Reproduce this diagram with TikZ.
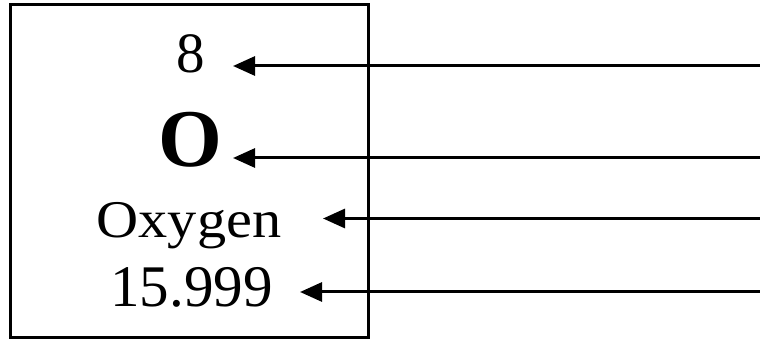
\documentclass[tikz,border=0pt]{standalone}
\usepackage{fontspec}
\setmainfont{Liberation Serif}
\usetikzlibrary{arrows.meta}
\begin{document}
\begin{tikzpicture}[x=1pt,y=-1pt,
  lbl/.style={anchor=base, inner sep=0pt, text=black},
  pointer/.style={line width=3pt, -{Triangle[length=22pt,width=19pt]}},
  cell/.style={line width=3pt}]
\useasboundingbox (0,0) rectangle (760,344);
\draw[cell] (10,5) rectangle (368,338);
\node[lbl] (num) at (190.5,73) {\fontsize{57}{57}\selectfont 8};
\node[lbl] (sym) at (190,167) {\fontsize{82}{82}\selectfont\bfseries O};
\node[lbl] (name) at (189,238) {\scalebox{1.1}[1]{\fontsize{53}{53}\selectfont Oxygen}};
\node[lbl] (mass) at (191.5,307) {\fontsize{59}{59}\selectfont 15.999};
\coordinate (t1) at (233,66);
\coordinate (t2) at (233,158);
\coordinate (t3) at (323,218.5);
\coordinate (t4) at (300,292);
\coordinate (e1) at (760,66);
\coordinate (e2) at (760,158);
\coordinate (e3) at (760,218.5);
\coordinate (e4) at (760,292);
\draw[pointer] (e1) -- (t1);
\draw[pointer] (e2) -- (t2);
\draw[pointer] (e3) -- (t3);
\draw[pointer] (e4) -- (t4);
\end{tikzpicture}
\end{document}
